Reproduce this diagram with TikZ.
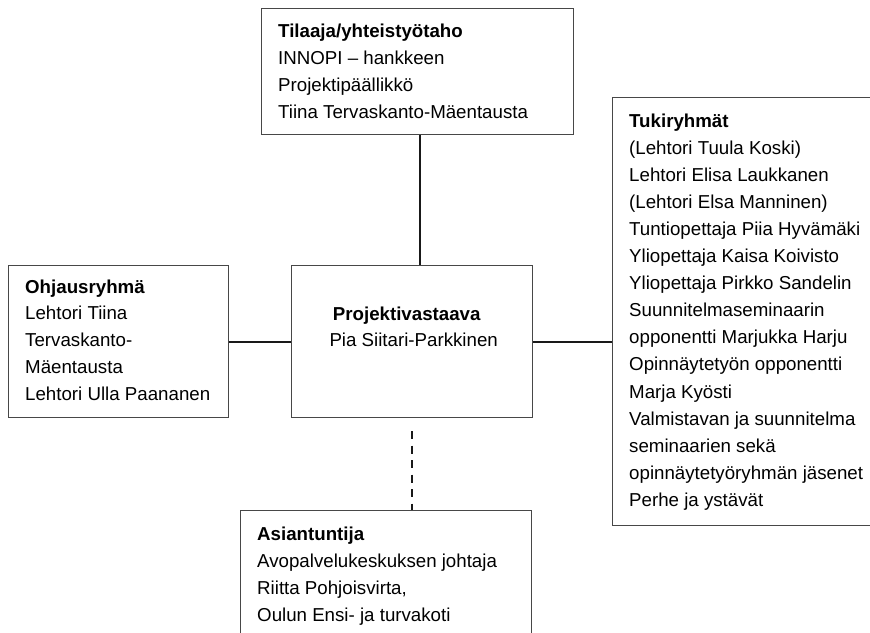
\documentclass[tikz,border=0pt]{standalone}
\usepackage{fontspec}
\setmainfont{Liberation Sans}
\begin{document}
\begin{tikzpicture}[x=1pt,y=-1pt,
  box/.style={draw=black!72,line width=1.2pt,inner sep=0pt,anchor=north west,fill=none},
  txt/.style={anchor=base west,inner sep=0pt,font=\fontsize{18.7pt}{25pt}\selectfont},
  link/.style={draw=black!90,line width=1.9pt},
  dlink/.style={draw=black!90,line width=1.9pt,dash pattern=on 8pt off 6.5pt}]
\useasboundingbox (0,0) rectangle (870,632);
% boxes
\node[box,minimum width=312pt,minimum height=126pt] (top) at (261,8) {};
\node[box,minimum width=220pt,minimum height=152pt] (left) at (8,265) {};
\node[box,minimum width=241pt,minimum height=152pt] (center) at (291,265) {};
\node[box,minimum width=260pt,minimum height=428pt] (right) at (612,97) {};
\node[box,minimum width=291pt,minimum height=130pt] (bottom) at (240,510) {};
% texts
\node[txt] (ttop) at (278,37) {\vtop{\baselineskip=27.3pt
  \hbox{\textbf{Tilaaja/yhteistyötaho}}
  \hbox{INNOPI – hankkeen}
  \hbox{Projektipäällikkö}
  \hbox{Tiina Tervaskanto-Mäentausta}}};
\node[txt] (tleft) at (25,293) {\vtop{\baselineskip=26.8pt
  \hbox{\textbf{Ohjausryhmä}}
  \hbox{Lehtori Tiina}
  \hbox{Tervaskanto-}
  \hbox{Mäentausta}
  \hbox{Lehtori Ulla Paananen}}};
\node[txt] (tcenter) at (329.3,320) {\vtop{\baselineskip=26.7pt
  \hbox{\kern3.4pt\textbf{Projektivastaava}}
  \hbox{Pia Siitari-Parkkinen}}};
\node[txt] (tright) at (629,127) {\vtop{\baselineskip=27.1pt
  \hbox{\textbf{Tukiryhmät}}
  \hbox{(Lehtori Tuula Koski)}
  \hbox{Lehtori Elisa Laukkanen}
  \hbox{(Lehtori Elsa Manninen)}
  \hbox{Tuntiopettaja Piia Hyvämäki}
  \hbox{Yliopettaja Kaisa Koivisto}
  \hbox{Yliopettaja Pirkko Sandelin}
  \hbox{Suunnitelmaseminaarin}
  \hbox{opponentti Marjukka Harju}
  \hbox{Opinnäytetyön opponentti}
  \hbox{Marja Kyösti}
  \hbox{Valmistavan ja suunnitelma}
  \hbox{seminaarien sekä}
  \hbox{opinnäytetyöryhmän jäsenet}
  \hbox{Perhe ja ystävät}}};
\node[txt] (tbottom) at (257,540) {\vtop{\baselineskip=27.2pt
  \hbox{\textbf{Asiantuntija}}
  \hbox{Avopalvelukeskuksen johtaja}
  \hbox{Riitta Pohjoisvirta,}
  \hbox{Oulun Ensi- ja turvakoti}}};
% connectors
\coordinate (vtop) at ([xshift=2pt]top.south);
\draw[link] (vtop) -- (vtop |- center.north);
\draw[link] (left.east) -- (center.west);
\draw[link] (center.east) -- (center.east -| right.west);
\coordinate (dstart) at ([yshift=-13pt]center.south);
\draw[dlink] (dstart) -- (dstart |- bottom.north);
\end{tikzpicture}
\end{document}
